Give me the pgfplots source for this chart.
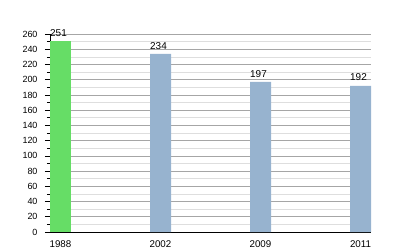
\documentclass[border=0pt]{standalone}
\usepackage{fontspec}
\setmainfont{Liberation Sans}
\usepackage{pgfplots}
\pgfplotsset{compat=1.18}
\definecolor{bargreen}{RGB}{102,221,102}
\definecolor{barblue}{RGB}{151,179,207}
\begin{document}
\begin{tikzpicture}
\begin{axis}[
  scale only axis,
  width=321bp, height=198bp,
  xmin=0, xmax=3.21, ymin=0, ymax=260,
  axis lines*=left,
  axis line style={black, line width=0.8pt},
  xtick={0.105,1.105,2.105,3.105},
  xticklabels={1988,2002,2009,2011},
  x tick label style={font=\fontsize{9.8}{10}\selectfont},
  xtick style={draw=none},
  ytick={0,20,...,260},
  minor ytick={10,30,...,250},
  y tick label style={font=\fontsize{9}{9}\selectfont, xshift=-4bp},
  /pgf/number format/assume math mode=true,
  tick align=outside,
  ytick pos=left,
  major tick length=5bp,
  minor tick length=3bp,
  ytick style={black, line width=0.6pt},
  ymajorgrids, yminorgrids,
  major grid style={draw=black!35, line width=0.6pt},
  minor grid style={draw=black!13, line width=0.6pt},
  nodes near coords,
  every node near coord/.append style={font=\fontsize{10}{10}\selectfont, black, inner sep=1.5pt, yshift=3bp, xshift=-2bp},
  clip=false,
]
\addplot[ybar, bar width=0.21, bar shift=0, fill=bargreen, draw=none] coordinates {(0.105,251)};
\addplot[ybar, bar width=0.21, bar shift=0, fill=barblue, draw=none] coordinates {(1.105,234) (2.105,197) (3.105,192)};
\end{axis}
\pgfresetboundingbox
\useasboundingbox (-50bp,-18bp) rectangle (350bp,232bp);
\end{tikzpicture}
\end{document}
